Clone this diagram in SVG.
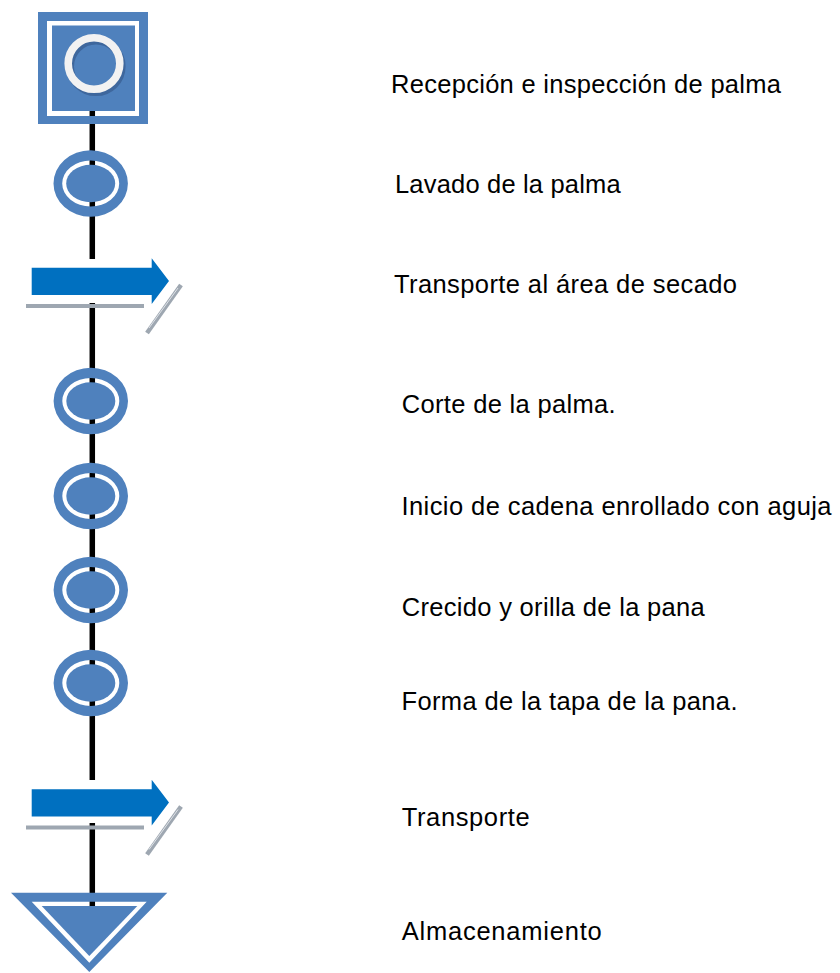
<svg xmlns="http://www.w3.org/2000/svg" xmlns:xlink="http://www.w3.org/1999/xlink" width="840" height="973" viewBox="0 0 840 973">
<style>
.blue{fill:#4f81bd}
.arrow{fill:#0070c0}
.gray{fill:#9ea7b1}
.grayline{stroke:#9ea7b1;stroke-width:4.5;stroke-linecap:butt;fill:none}
.conn{stroke:#000;stroke-width:5.5;fill:none}
.lbl{font-family:"Liberation Sans",Arial,sans-serif;font-size:25.5px;fill:#000}
</style>
<defs>
<g id="op">
<path class="blue" fill-rule="evenodd" d="M-37.2,0 a37.2,33.3 0 1,0 74.4,0 a37.2,33.3 0 1,0 -74.4,0 Z M-28.5,0 a28.5,23 0 1,0 57,0 a28.5,23 0 1,0 -57,0 Z"/>
<ellipse class="blue" cx="0" cy="0" rx="24.5" ry="18.7"/>
</g>
<g id="tr">
<polygon class="arrow" points="31.7,267.7 151.7,267.7 151.7,258.3 169,281 151.7,304 151.7,295 31.7,295"/>
<rect class="gray" x="26" y="304" width="118" height="4"/>
<line class="grayline" x1="147" y1="333" x2="181" y2="285"/>
<line x1="149" y1="328" x2="178" y2="288" stroke="#dfe3e8" stroke-width="1"/>
</g>
</defs>

<g id="connectors">
<line class="conn" x1="92.3" y1="100" x2="92.3" y2="259"/>
<line class="conn" x1="92.3" y1="303" x2="92.3" y2="780"/>
<line class="conn" x1="92.3" y1="823" x2="92.3" y2="906"/>
</g>

<g id="n1">
<path class="blue" fill-rule="evenodd" d="M38,12 h110 v112 h-110 Z M47,21 v95 h92 v-95 Z"/>
<rect class="blue" x="52" y="25.5" width="83" height="85.5"/>
<circle cx="96" cy="66.5" r="25.8" fill="none" stroke="#3e679d" stroke-width="7.6"/>
<circle cx="94" cy="63.5" r="25.8" fill="none" stroke="#f2f2f2" stroke-width="7.6"/>
</g>
<g id="n2"><use xlink:href="#op" x="90.7" y="183.5"/></g>
<g id="n3"><use xlink:href="#tr"/></g>
<g id="n4"><use xlink:href="#op" x="90.8" y="401"/></g>
<g id="n5"><use xlink:href="#op" x="90.8" y="496"/></g>
<g id="n6"><use xlink:href="#op" x="90.8" y="590"/></g>
<g id="n7"><use xlink:href="#op" x="90.8" y="683"/></g>
<g id="n8"><use xlink:href="#tr" y="521.5"/></g>
<g id="n9">
<path class="blue" fill-rule="evenodd" d="M11,892.7 L167.3,892.7 L89.3,972 Z M31.7,901.7 L89.3,962.7 L146.7,901.7 Z"/>
<polygon class="blue" points="41.7,906 137.3,906 89.3,956"/>
</g>

<g id="labels">
<text class="lbl" x="391" y="93.3" textLength="390">Recepción e inspección de palma</text>
<text class="lbl" x="395" y="193.3" textLength="225.7">Lavado de la palma</text>
<text class="lbl" x="394" y="293.3" textLength="343">Transporte al área de secado</text>
<text class="lbl" x="401.7" y="413.3" textLength="214">Corte de la palma.</text>
<text class="lbl" x="401.5" y="515" textLength="430">Inicio de cadena enrollado con aguja</text>
<text class="lbl" x="401.7" y="615.7" textLength="303">Crecido y orilla de la pana</text>
<text class="lbl" x="401.5" y="710" textLength="336">Forma de la tapa de la pana.</text>
<text class="lbl" x="401.7" y="826" textLength="128">Transporte</text>
<text class="lbl" x="401.7" y="940" textLength="200">Almacenamiento</text>
</g>
</svg>
